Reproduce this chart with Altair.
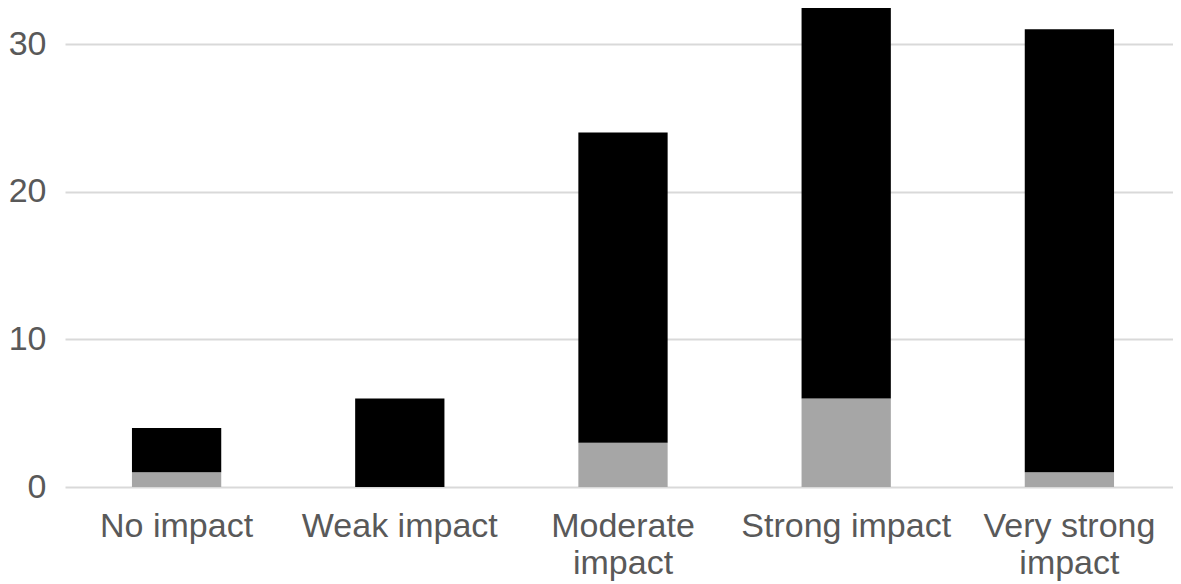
import altair as alt
import pandas as pd

categories = ["No impact", "Weak impact", "Moderate impact", "Strong impact", "Very strong impact"]
gray_values = [1, 0, 3, 6, 1]
black_values = [3, 6, 21, 27, 30]
series_names = ["Lower", "Upper"]
series_colors = ["#a6a6a6", "#000000"]
y_ticks = [0, 10, 20, 30]

rows = []
for c, g, b in zip(categories, gray_values, black_values):
    rows.append({"category": c, "series": series_names[0], "value": g, "ord": 0})
    rows.append({"category": c, "series": series_names[1], "value": b, "ord": 1})
df = pd.DataFrame(rows)

label_expr = (
    "datum.label == 'Moderate impact' ? ['Moderate', 'impact'] : "
    "datum.label == 'Very strong impact' ? ['Very strong', 'impact'] : datum.label"
)

FONT = "Liberation Sans, Arial, sans-serif"

chart = alt.Chart(df).mark_bar(clip=True).encode(
    x=alt.X(
        "category:N",
        sort=categories,
        scale=alt.Scale(paddingInner=0.6, paddingOuter=0.3, range=[0, 1116]),
        axis=alt.Axis(
            title=None, labelAngle=0, labelFont=FONT, labelFontSize=34,
            labelColor="#595959", labelPadding=22, ticks=False, domain=False,
            labelExpr=label_expr, labelLineHeight=37, labelBaseline="top",
            labelLimit=400,
        ),
    ),
    y=alt.Y(
        "value:Q",
        stack="zero",
        scale=alt.Scale(domain=[0, 32.44], nice=False, zero=True),
        axis=alt.Axis(
            title=None, values=y_ticks, labelFont=FONT, labelFontSize=34,
            labelColor="#595959", labelPadding=19, ticks=False, domain=False,
            grid=True, gridColor="#d9d9d9", gridWidth=2, labelLimit=200,
        ),
    ),
    color=alt.Color(
        "series:N",
        scale=alt.Scale(domain=series_names, range=series_colors),
        legend=None,
    ),
    order=alt.Order("ord:Q", sort="ascending"),
).properties(
    width=1108,
    height=479,
    autosize=alt.AutoSizeParams(type="none"),
    padding={"left": 57, "top": 0, "right": 0, "bottom": 97},
).configure(background="white").configure_view(stroke=None, strokeWidth=0)

chart.save("out.html", embed_options={"renderer": "svg", "actions": False})
